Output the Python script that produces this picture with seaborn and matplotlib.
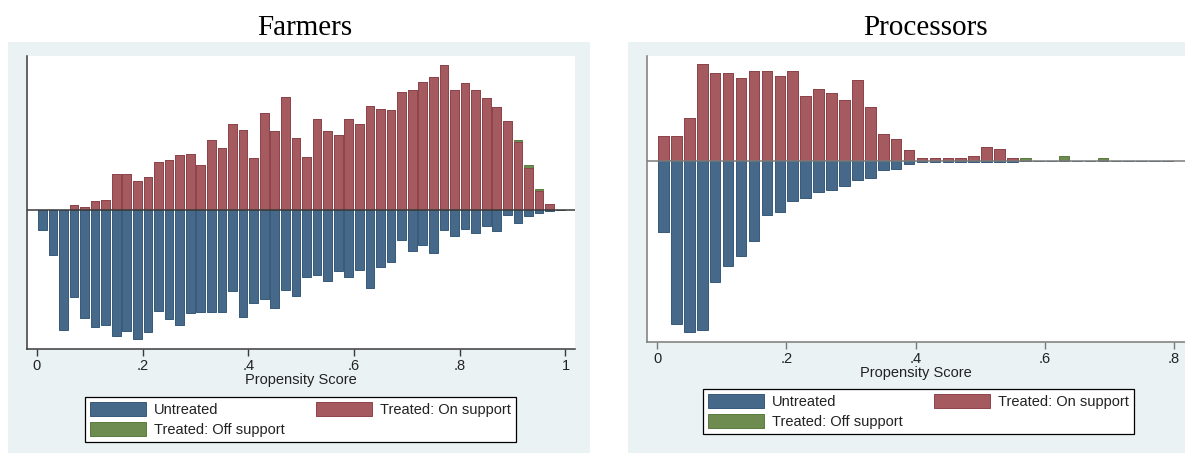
import numpy as np
import pandas as pd
import matplotlib
matplotlib.use("Agg")
import matplotlib.pyplot as plt
from matplotlib.patches import Patch, Rectangle
import seaborn as sns

# ---------------- data (relative densities) ----------------
bin_width = 0.02

farmers_treated_on = [0, 0, 0, 4.7, 3, 9, 10.3, 36, 36, 28.7,
                      33.3, 48.3, 50, 54.7, 56, 45.3, 69.7, 62, 86.3, 80,
                      51.7, 97, 78.7, 113.3, 72.3, 53, 91, 79, 75.3, 91,
                      86.3, 104.3, 101.3, 100, 118, 119.7, 128.3, 133, 145.3, 119.7,
                      127, 119.7, 112, 103, 89.3, 67.7, 42.3, 19.3, 6, 0]
farmers_treated_off = [0, 0, 0, 0, 0, 0, 0, 0, 0, 0,
                       0, 0, 0, 0, 0, 0, 0, 0, 0, 0,
                       0, 0, 0, 0, 0, 0, 0, 0, 0, 0,
                       0, 0, 0, 0, 0, 0, 0, 0, 0, 0,
                       0, 0, 0, 0, 0, 2, 3, 2, 0, 0]
farmers_untreated = [20.3, 44.7, 119.7, 86.7, 108.3, 116.7, 115.3, 126.3, 120.7, 129,
                     122.3, 100.7, 108.7, 115.3, 103, 101.7, 101.7, 101.7, 81.3, 107.3,
                     92.7, 89.3, 97.7, 79.7, 85.7, 66.7, 65, 70.7, 61, 66.7,
                     59.7, 77.7, 57.3, 51.7, 29.7, 40.7, 35.3, 43.3, 20.3, 25.7,
                     18.7, 23, 16.3, 20.7, 5.3, 13.3, 6.3, 2.7, 0.7, 0]

proc_treated_on = [24.7, 24.7, 42.7, 96.7, 87.7, 87.7, 82.7, 89.7, 89.7, 85.3,
                   89.7, 65, 71.7, 67.7, 60.7, 80.7, 53.7, 26.7, 22, 11.3,
                   2.7, 2.7, 2.7, 2.7, 4.7, 13.7, 11.7, 2.7, 0, 0,
                   0, 0, 0, 0, 0, 0, 0, 0, 0, 0]
proc_treated_off = [0, 0, 0, 0, 0, 0, 0, 0, 0, 0,
                    0, 0, 0, 0, 0, 0, 0, 0, 0, 0,
                    0, 0, 0, 0, 0, 0, 0, 0, 2.7, 0,
                    0, 4.7, 0, 0, 2.7, 0, 0, 0, 0, 0]
proc_untreated = [71.3, 163.3, 171.3, 169.3, 120.7, 105.3, 94.7, 80, 53.7, 50.7,
                  39.7, 37, 30.7, 29.3, 25, 19.3, 16.7, 8.7, 7.7, 3,
                  1, 0.7, 0.7, 0.7, 0.7, 0.7, 0.7, 0.7, 0, 0,
                  0, 0, 0, 0, 0, 0, 0, 0, 0, 0]

farmers_ticks = [0, 0.2, 0.4, 0.6, 0.8, 1.0]
farmers_ticklabels = ["0", ".2", ".4", ".6", ".8", "1"]
proc_ticks = [0, 0.2, 0.4, 0.6, 0.8]
proc_ticklabels = ["0", ".2", ".4", ".6", ".8"]

panel_titles = ["Farmers", "Processors"]
legend_labels = ["Untreated", "Treated: On support", "Treated: Off support"]
xlabel_text = "Propensity Score"

# ---------------- style ----------------
sns.set_theme(style="white")
plt.rcParams["font.family"] = ["Liberation Sans", "DejaVu Sans"]

BLUE, BLUE_E = "#46698a", "#36597a"
RED, RED_E = "#a55a60", "#8e434a"
GREEN, GREEN_E = "#6e8c50", "#5a7a3e"
PANEL_BG = "#eaf2f3"

W, H = 1185, 454
fig = plt.figure(figsize=(W / 100, H / 100), dpi=100)
fig.patch.set_facecolor("white")


def fx(px):
    return px / W


def fy(py):
    return 1 - py / H


# panel backgrounds
for (x0, y0, x1, y1) in [(8, 42, 590, 453), (628, 42, 1185, 453)]:
    fig.add_artist(Rectangle((fx(x0), fy(y1)), fx(x1 - x0), (y1 - y0) / H,
                             transform=fig.transFigure, facecolor=PANEL_BG,
                             edgecolor="none", zorder=-5))


def draw_panel(ax, on, off, untr, ticks, ticklabels, xlim, ylim, axcol):
    n = len(on)
    df = pd.DataFrame({
        "score": bin_width * (np.arange(n) + 0.5),
        "on": on,
        "off": off,
        "untr": untr,
    })
    df["treated_total"] = df["on"] + df["off"]
    df["untr_neg"] = -df["untr"]
    kw = dict(native_scale=True, width=0.82, errorbar=None, saturation=1,
              linewidth=0.7, ax=ax)
    sns.barplot(data=df, x="score", y="treated_total", color=GREEN, edgecolor=GREEN_E, **kw)
    sns.barplot(data=df, x="score", y="on", color=RED, edgecolor=RED_E, **kw)
    sns.barplot(data=df, x="score", y="untr_neg", color=BLUE, edgecolor=BLUE_E, **kw)
    ax.axhline(0, color=axcol, lw=1.1, zorder=6)
    ax.set_xlim(*xlim)
    ax.set_ylim(*ylim)
    ax.set_yticks([])
    ax.set_xticks(ticks)
    ax.set_xticklabels(ticklabels)
    ax.set_ylabel("")
    ax.set_xlabel(xlabel_text, fontsize=10.5, labelpad=0, color="#222")
    ax.tick_params(axis="x", direction="out", length=5, width=1, color=axcol,
                   labelsize=10.5, pad=2, labelcolor="#222", bottom=True)
    for s in ["top", "right"]:
        ax.spines[s].set_visible(False)
    for s in ["left", "bottom"]:
        ax.spines[s].set_color(axcol)
        ax.spines[s].set_linewidth(1.1)
    ax.set_facecolor("white")


axL = fig.add_axes([fx(27), fy(349), fx(575 - 27), (349 - 56) / H])
draw_panel(axL, farmers_treated_on, farmers_treated_off, farmers_untreated,
           farmers_ticks, farmers_ticklabels, (-0.0189, 1.018), (-139, 154), "#3a3a3a")

axR = fig.add_axes([fx(647), fy(342), fx(1185 - 647), (342 - 56) / H])
draw_panel(axR, proc_treated_on, proc_treated_off, proc_untreated,
           proc_ticks, proc_ticklabels, (-0.0155, 0.817), (-181, 105), "#7a7a7a")

# titles
fig.text(fx(305), fy(35), panel_titles[0], family=["Liberation Serif", "DejaVu Serif"],
         fontsize=21, ha="center", va="baseline", color="black")
fig.text(fx(925), fy(35), panel_titles[1], family=["Liberation Serif", "DejaVu Serif"],
         fontsize=21, ha="center", va="baseline", color="black")

# legends (ordered so that rows read: Untreated | On support ; Off support)
handles = [Patch(facecolor=BLUE, edgecolor=BLUE_E, lw=0.7),
           Patch(facecolor=GREEN, edgecolor=GREEN_E, lw=0.7),
           Patch(facecolor=RED, edgecolor=RED_E, lw=0.7)]
labels = [legend_labels[0], legend_labels[2], legend_labels[1]]
for (lx, ly) in [(85, 397), (703, 389)]:
    leg = fig.legend(handles, labels, loc="upper left",
                     bbox_to_anchor=(fx(lx), fy(ly)), bbox_transform=fig.transFigure,
                     ncol=2, fontsize=10.5, frameon=True, fancybox=False,
                     edgecolor="black", framealpha=1, borderaxespad=0,
                     handlelength=3.8, handleheight=1.1, handletextpad=0.55,
                     borderpad=0.35, labelspacing=0.35, columnspacing=2.2)
    leg.get_frame().set_linewidth(0.9)
    for t in leg.get_texts():
        t.set_color("#222")

fig.savefig("out.png", dpi=100, facecolor="white")
